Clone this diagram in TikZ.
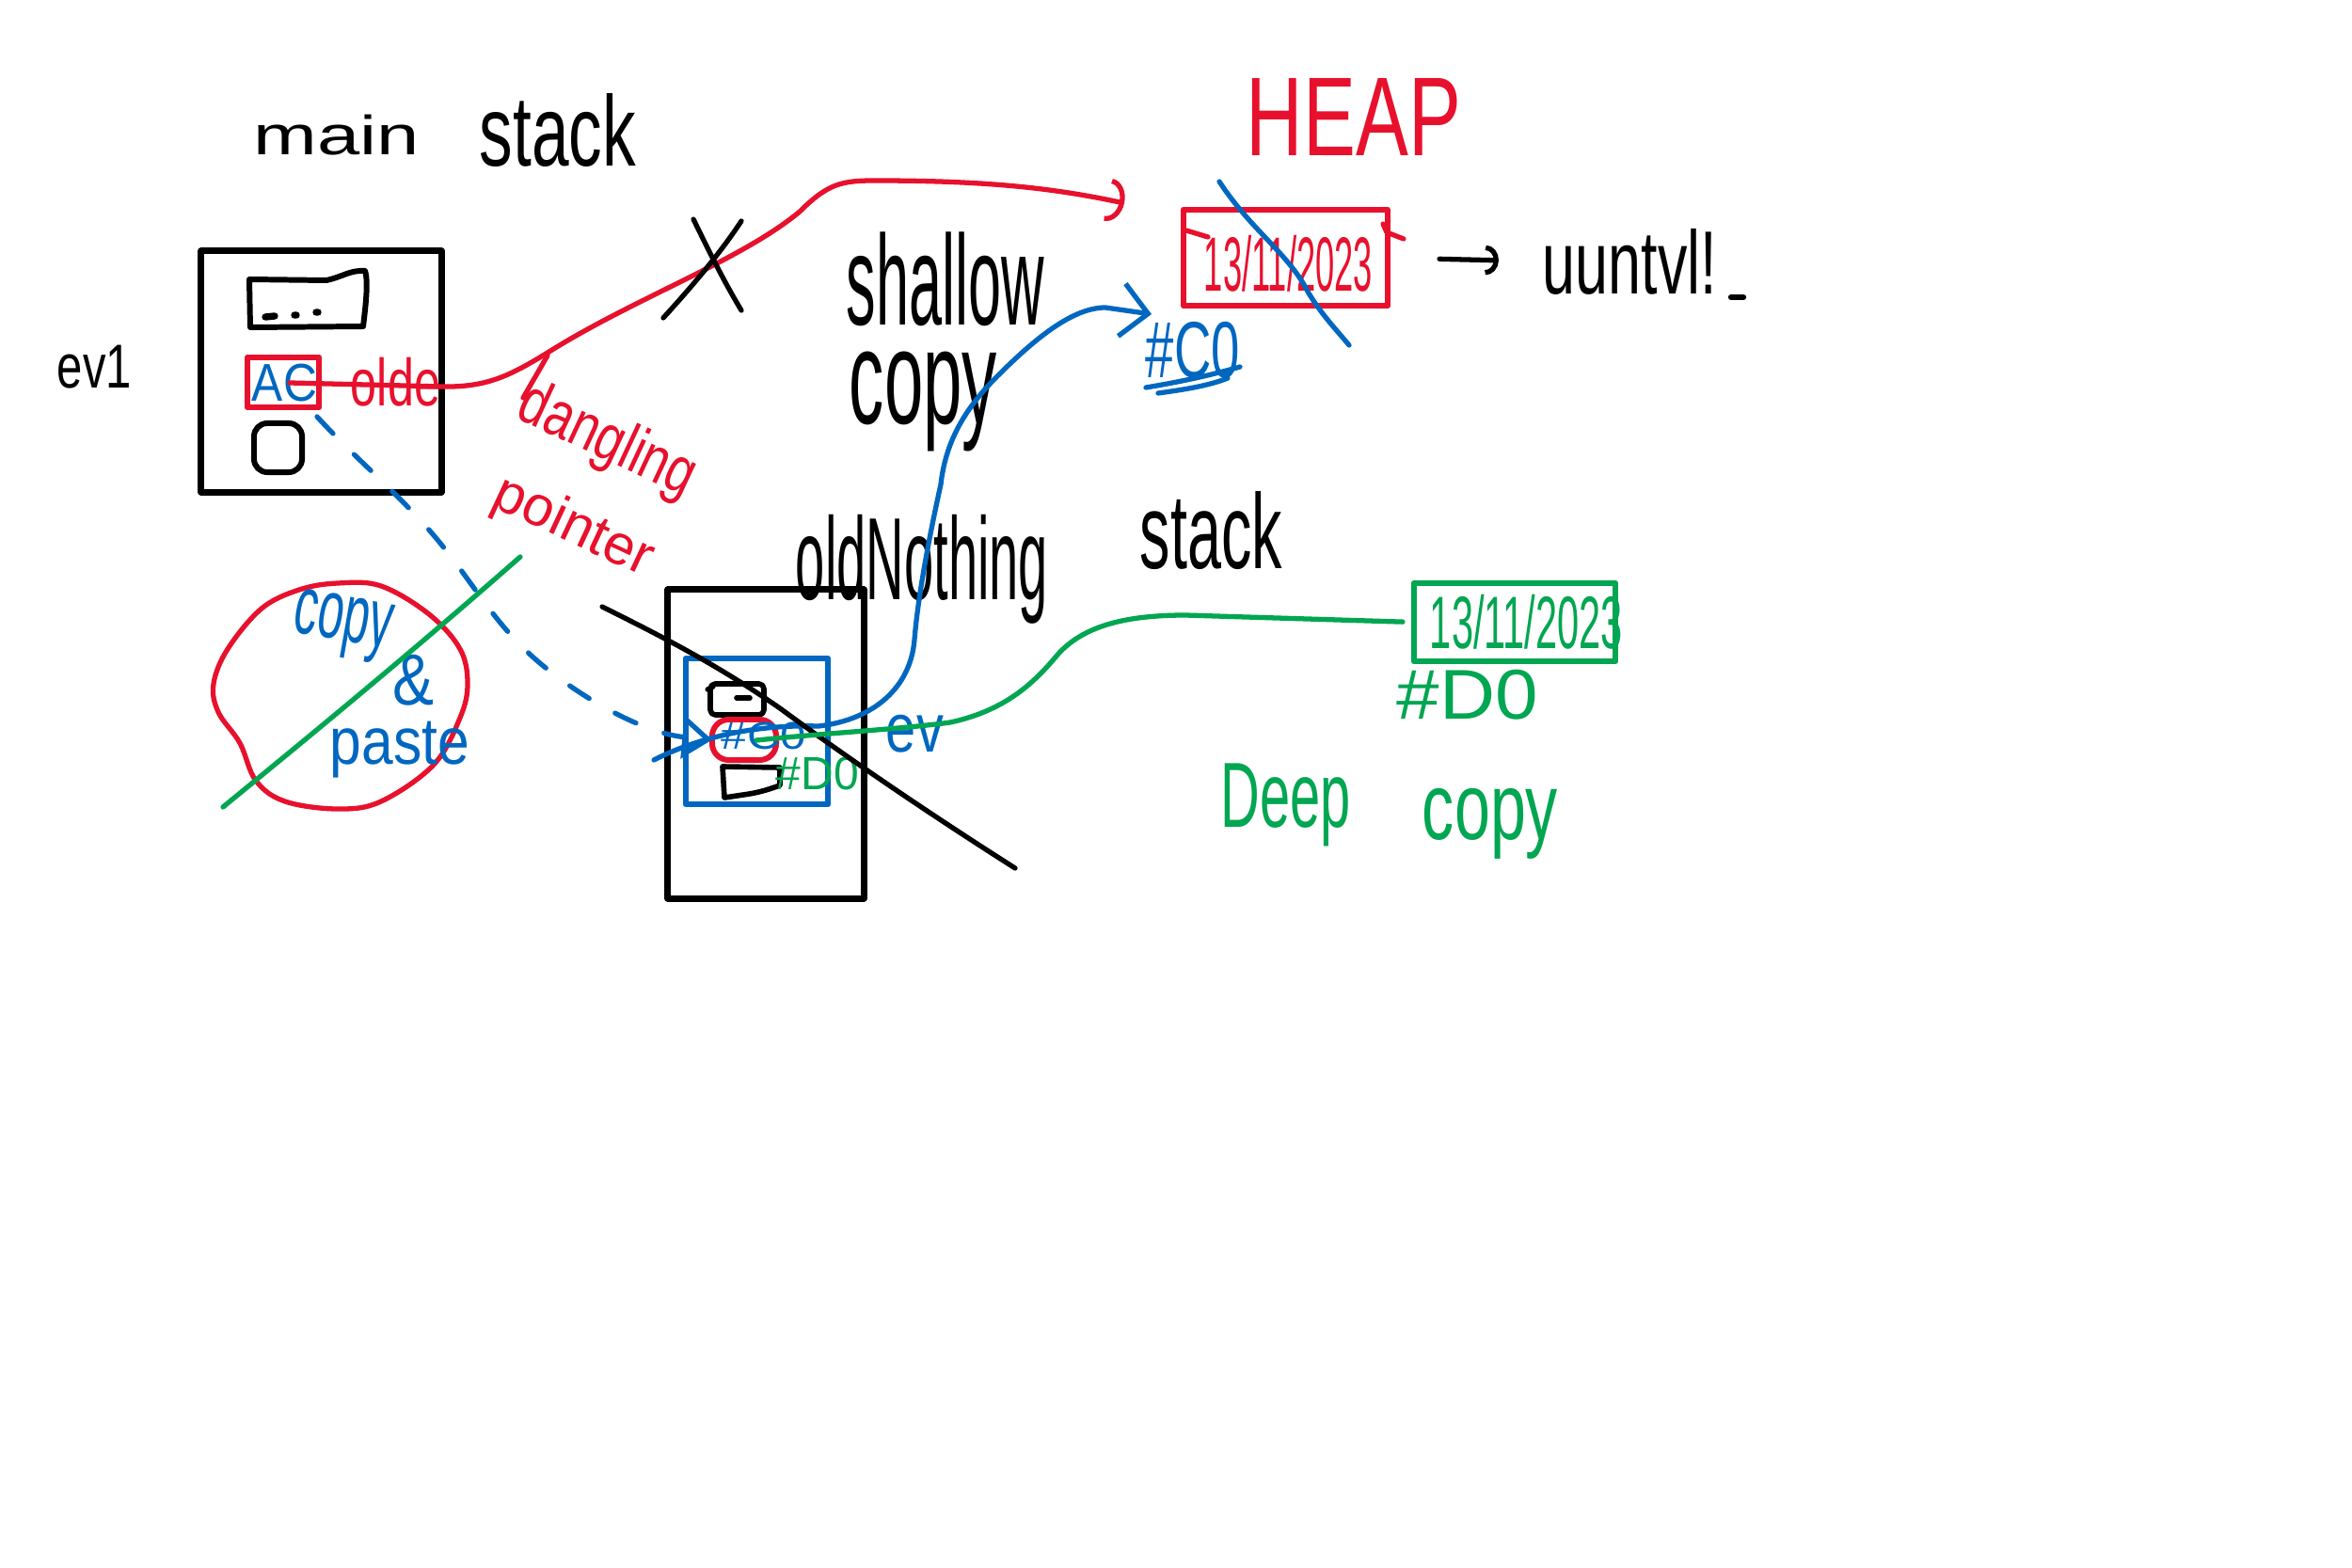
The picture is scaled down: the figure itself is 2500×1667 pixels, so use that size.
\documentclass[tikz,border=0pt]{standalone}
\usepackage{fontspec}
\setmainfont{Liberation Sans}
\usepackage{graphicx}
\usetikzlibrary{arrows.meta}
\definecolor{inkred}{RGB}{232,17,45}
\definecolor{inkblue}{RGB}{0,103,192}
\definecolor{inkgreen}{RGB}{0,166,81}
\newcommand{\hwfit}[3]{\resizebox*{#1cm}{#2cm}{#3}}
\begin{document}
\begin{tikzpicture}[x=0.01cm,y=-0.01cm,line cap=round,line join=round,
  hand/.style={inner sep=0pt,outer sep=0pt},
  frame/.style={draw,line width=2pt,inner sep=0pt,outer sep=0pt},
  pen/.style={line width=1.5pt}]
\fill[white] (0,0) rectangle (2500,1667);
\useasboundingbox (0,0) rectangle (2500,1667);

% ---------- main stack ----------
\node[hand] (mainlbl) at (358,143.5) {\hwfit{1.76}{0.43}{main}};
\node[hand] (stacklbl) at (593,139) {\hwfit{1.66}{0.78}{stack}};
\node[hand] (evlbl) at (100.5,390) {\hwfit{0.79}{0.46}{ev1}};
\node[frame,minimum width=2.55cm,minimum height=2.56cm] (mainbox) at (341.5,395) {};
\draw[line width=1.7pt] (265,297) -- (347,298) .. controls (365,294) and (372,287) .. (388,288)
  .. controls (392,300) and (388,330) .. (386,347) -- (266,348) -- cycle;
\draw[line width=2.1pt] (282,337)--(292,336) (313,335)--(315,335) (336,332)--(338,332);
\node[frame,draw=inkred,line width=1.9pt,minimum width=0.76cm,minimum height=0.53cm] (mainred) at (301,406.5) {};
\node[hand,text=inkblue] (aclbl) at (302.5,407) {\hwfit{0.69}{0.40}{AC}};
\node[hand,text=inkred] (oldelbl) at (420.5,406) {\hwfit{0.95}{0.52}{olde}};
\node[frame,line width=1.7pt,rounded corners=4pt,minimum width=0.51cm,minimum height=0.52cm] (mainsmall) at (295.5,476) {};

% ---------- dangling pointer ----------
\coordinate (rs) at (308,407);
\coordinate (rt) at (1195,216);
\draw[inkred,pen,-{Arc Barb[length=5pt,width=13pt]}] (rs) -- (470,411)
  .. controls (520,412) and (545,398) .. (590,370)
  .. controls (680,315) and (790,275) .. (850,225)
  .. controls (880,195) and (895,192) .. (930,192)
  .. controls (1050,192) and (1120,200) .. (rt);
\draw[pen] (737,233) .. controls (755,270) and (770,300) .. (788,330);
\draw[pen] (788,235) .. controls (765,270) and (735,305) .. (705,338);
\node[hand,text=inkred,rotate=-25] (dangl) at (645,470) {\hwfit{2.00}{0.64}{dangling}};
\node[hand,text=inkred,rotate=-25] (pointl) at (609,561) {\hwfit{1.80}{0.56}{pointer}};
\coordinate (lead) at (582,378);
\coordinate (leadend) at (556,423);
\draw[inkred,pen] (lead) -- (leadend);

% ---------- shallow copy ----------
\node[hand] (shal) at (1005,297) {\hwfit{2.10}{1.00}{shallow}};
\node[hand] (copyk) at (981.5,427) {\hwfit{1.57}{1.06}{copy}};

% ---------- heap ----------
\node[hand,text=inkred] (heaplbl) at (1439,124) {\hwfit{2.28}{0.82}{HEAP}};
\node[frame,draw=inkred,line width=1.9pt,minimum width=2.17cm,minimum height=1.02cm] (heapbox) at (1366.5,274) {};
\node[hand,text=inkred] (heapdate) at (1369.5,280) {\hwfit{1.79}{0.60}{13/11/2023}};
\draw[inkred,pen] (1261,245) -- (1284,252);
\draw[inkred,pen] (1470,238) -- (1474,247) -- (1492,254);
\draw[inkblue,pen] (1296,193) .. controls (1330,245) and (1370,270) .. (1390,310)
  .. controls (1405,335) and (1420,350) .. (1434,367);
\node[hand] (untl) at (1732.5,278) {\hwfit{1.85}{0.70}{uuntvl!}};
\draw[pen,shorten <=0.55cm,shorten >=0.47cm,-{Arc Barb[length=4pt,width=9pt]}] (heapbox.east) -- (untl.west);
\draw[line width=1.8pt] (1840,316) -- (1853,316);
\node[hand,text=inkblue] (c0lbl) at (1268,372) {\hwfit{1.00}{0.60}{\#C0}};
\draw[inkblue,pen] (1218,412) .. controls (1260,405) and (1290,398) .. (1318,390);
\draw[inkblue,pen] (1231,418) .. controls (1260,414) and (1285,410) .. (1305,402);

% ---------- copy & paste ----------
\draw[inkred,pen] plot[smooth cycle,tension=0.6] coordinates {(359,620) (405,623) (456,653) (489,690) (497,727) (489,763) (461,813) (405,852) (359,860) (303,852) (272,830) (255,790) (232,757) (227,727) (242,690) (278,647) (318,627)};
\node[hand,text=inkblue,rotate=-10] (cpy) at (364,666) {\hwfit{1.05}{0.66}{copy}};
\node[hand,text=inkblue] (amp) at (440,723) {\hwfit{0.44}{0.54}{\&}};
\node[hand,text=inkblue] (paste) at (425,797) {\hwfit{1.48}{0.60}{paste}};
\draw[inkgreen,pen] (237,858) .. controls (320,790) and (430,700) .. (553,592);

% ---------- oldNothing stack ----------
\node[hand] (oldlbl) at (980,605) {\hwfit{2.68}{1.16}{oldNothing}};
\node[hand] (stack2) at (1287.5,564.5) {\hwfit{1.51}{0.83}{stack}};
\node[frame,minimum width=2.08cm,minimum height=3.28cm] (oldbox) at (814,791) {};
\node[frame,draw=inkblue,line width=1.8pt,minimum width=1.51cm,minimum height=1.55cm] (bluebox) at (804.5,777.5) {};
\node[frame,line width=1.6pt,rounded corners=1.5pt,minimum width=0.57cm,minimum height=0.33cm] (oldtop) at (783.5,743.5) {};
\draw[line width=1.6pt] (783,742) -- (797,742);
\draw[line width=1.5pt] (752,733) -- (758,730);
\node[frame,draw=inkred,line width=1.7pt,rounded corners=5pt,minimum width=0.68cm,minimum height=0.43cm] (oldred) at (791,786.5) {};
\draw[line width=1.6pt] (768,815) -- (829,816) -- (829,835) .. controls (815,840) and (805,843) .. (790,845) -- (770,848) -- cycle;
\node[hand,text=inkblue] (c0small) at (812,782.5) {\hwfit{0.90}{0.29}{\#C0}};
\node[hand,text=inkgreen] (d0small) at (869,822.5) {\hwfit{0.88}{0.35}{\#D0}};
\node[hand,text=inkblue] (evlbl2) at (972.5,780) {\hwfit{0.61}{0.40}{ev}};

% blue dashed pointer to old copy
\coordinate (bds) at (337,443);
\draw[inkblue,pen,dash pattern=on 7pt off 9pt,-{Triangle[open,length=9pt,width=13pt]}] (bds)
  .. controls (380,490) and (430,530) .. (470,580)
  .. controls (510,630) and (530,670) .. (580,710)
  .. controls (630,750) and (690,780) .. (oldred.west);

% blue shallow copy connector
\coordinate (bss) at (695,808);
\coordinate (bst) at (1224,334);
\draw[inkblue,pen,-{Straight Barb[length=8pt,width=16pt]}] (bss)
  .. controls (740,785) and (800,770) .. (870,772)
  .. controls (930,765) and (968,730) .. (972,680)
  .. controls (976,630) and (990,560) .. (1000,515)
  .. controls (1005,470) and (1025,435) .. (1060,400)
  .. controls (1100,360) and (1140,327) .. (1175,327) -- (bst);

% black strike over old stack
\draw[pen] (640,645) .. controls (700,675) and (760,705) .. (829,753)
  .. controls (900,805) and (980,860) .. (1079,923);

% ---------- deep copy ----------
\node[frame,draw=inkgreen,line width=1.9pt,minimum width=2.14cm,minimum height=0.83cm] (greenbox) at (1610,661.5) {};
\node[hand,text=inkgreen] (greendate) at (1622.5,661) {\hwfit{2.05}{0.58}{13/11/2023}};
\node[hand,text=inkgreen] (d0lbl) at (1560,738.5) {\hwfit{1.50}{0.53}{\#D0}};
\coordinate (gds) at (804,787);
\draw[inkgreen,pen,shorten >=0.12cm] (gds)
  .. controls (870,780) and (960,775) .. (1010,768)
  .. controls (1070,755) and (1100,725) .. (1125,695)
  .. controls (1150,668) and (1190,654) .. (1260,654) -- (greenbox.west);
\node[hand,text=inkgreen] (deeplbl) at (1367,856) {\hwfit{1.38}{0.88}{Deep}};
\node[hand,text=inkgreen] (copyg) at (1584,875.5) {\hwfit{1.44}{0.75}{copy}};
\end{tikzpicture}
\end{document}
